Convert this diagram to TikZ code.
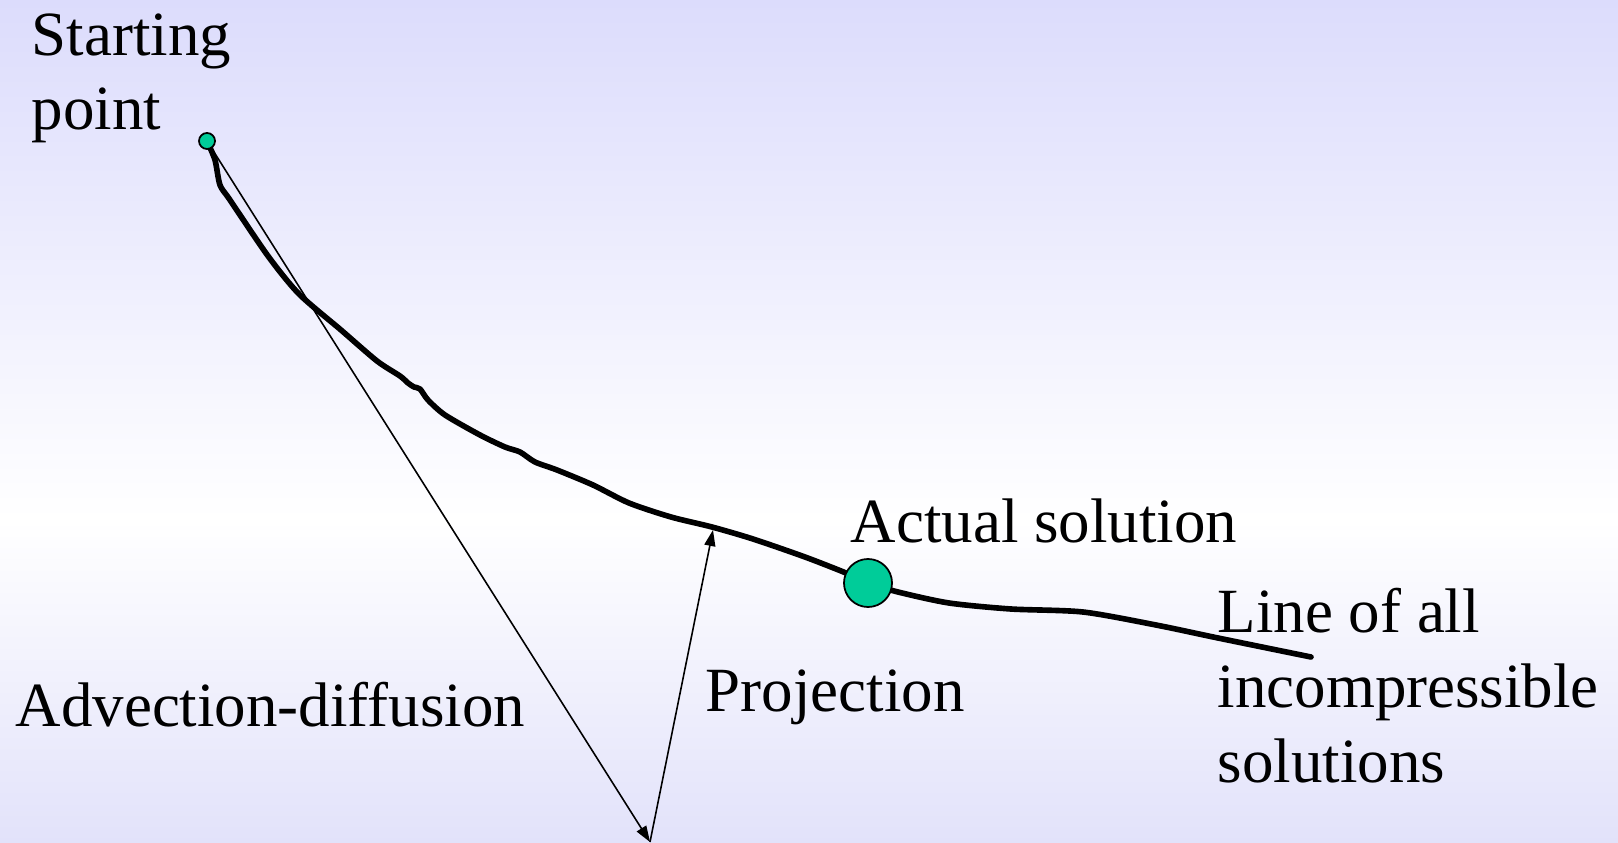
\documentclass[tikz,border=0pt]{standalone}
\usepackage{fontspec}
\setmainfont{Liberation Serif}
\usetikzlibrary{arrows.meta}

\definecolor{bgtop}{RGB}{220,220,252}
\definecolor{bgbot}{RGB}{226,226,250}
\definecolor{dotgreen}{RGB}{0,204,153}

\begin{document}
\begin{tikzpicture}[
x=0.01cm,
y=-0.01cm,
lbl/.style={
inner sep=0pt,
align=left,
anchor=base west,
font=\fontsize{17.9}{21.3}\selectfont
},
dot/.style={
circle,
draw,
fill=dotgreen,
line width=0.5pt,
inner sep=0pt
},
curve/.style={
line width=1.6pt,
line join=round,
line cap=round
},
arrow/.style={
-{Triangle[length=0.16cm,width=0.11cm]},
line width=0.45pt
}
]


% Background

\useasboundingbox (0,0) rectangle (1618,843);
\shade[top color=bgtop, bottom color=white] (0,0) rectangle (1618,520);
\shade[top color=white, bottom color=bgbot] (0,520) rectangle (1618,843);


% Line of all incompressible solutions

\draw[curve] plot[smooth, tension=0.45] coordinates {
(207,141) (215,160) (220,185) (230,200) (268,256) (299,294)
(341,330) (377,361) (400,376) (408,383) (414,387) (420,389)
(428,400) (445,415) (480,435) (505,447) (520,452) (535,462)
(557,470) (593,485) (629,503) (671,517) (712,527) (753,539)
(805,557) (846,573) (868,583) (898,592) (949,603) (1011,609)
(1083,612) (1156,625) (1218,638) (1311,657)
};


% Points

\node (start) [dot, minimum size=0.16cm] at (207,141) {};
\node (actual) [dot, minimum size=0.48cm] at (868,583) {};

\coordinate (step) at (650,842);
\coordinate (foot) at (713,530);


% Steps

\draw[arrow] (start) -- (step);
\draw[arrow] (step) -- (foot);


% Labels (base of the last line)

\node (startlbl) [lbl] at (31,130) {Starting\\point};
\node (advlbl) [lbl] at (15,726) {Advection-diffusion};
\node (projlbl) [lbl] at (705,711) {Projection};
\node (actlbl) [lbl] at (850,542) {Actual solution};
\node (linelbl) [lbl] at (1217,782) {Line of all\\incompressible\\solutions};


\end{tikzpicture}
\end{document}
